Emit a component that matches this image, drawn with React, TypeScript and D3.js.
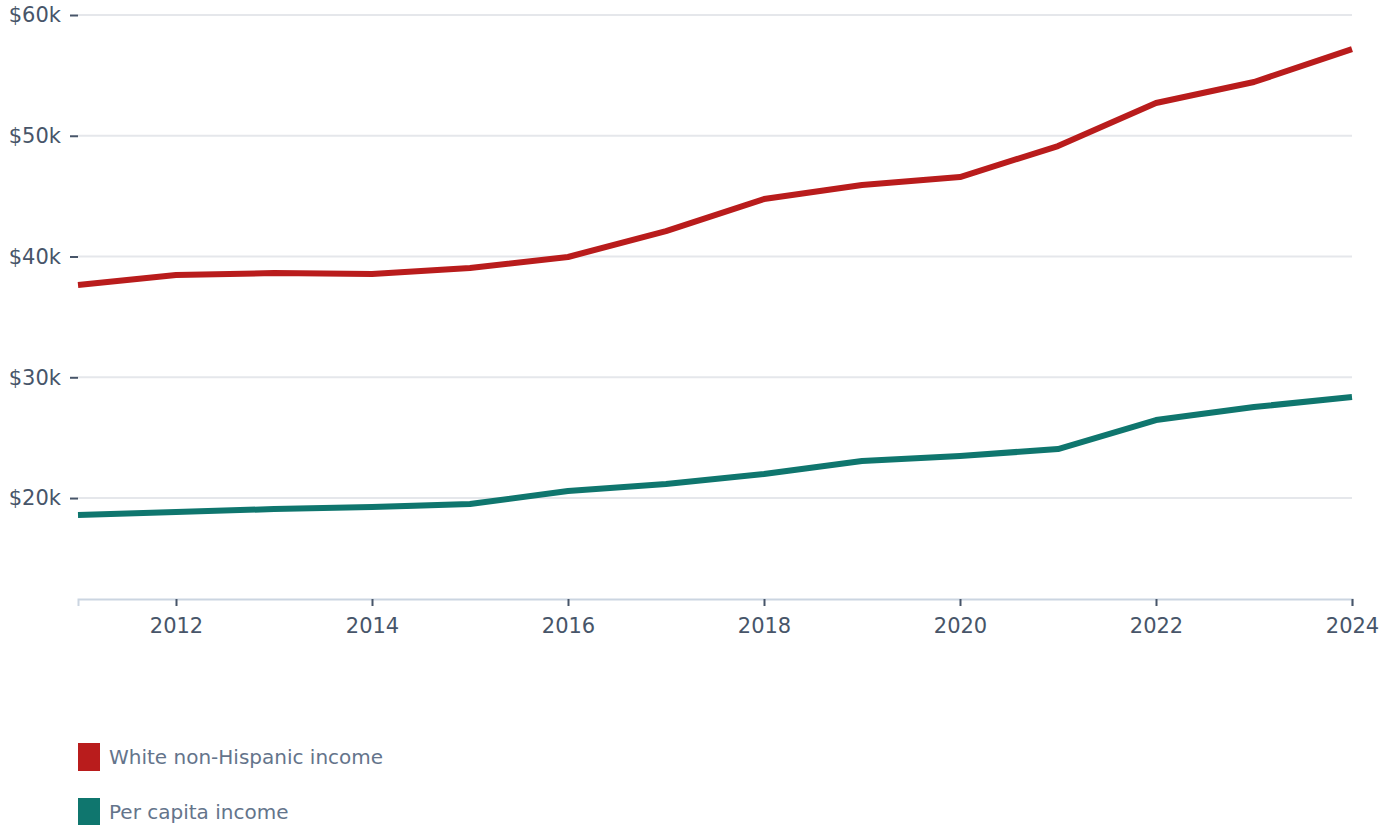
import React, { useEffect, useRef } from 'react';
import * as d3 from 'd3';

// --- Data ---
const years = [2011, 2012, 2013, 2014, 2015, 2016, 2017, 2018, 2019, 2020, 2021, 2022, 2023, 2024];
const whiteIncome = [37650, 38470, 38630, 38550, 39050, 39960, 42110, 44760, 45920, 46580, 49150, 52710, 54450, 57180];
const perCapitaIncome = [18590, 18840, 19090, 19250, 19500, 20580, 21160, 21990, 23060, 23480, 24060, 26460, 27540, 28360];
const yTicks = [20000, 30000, 40000, 50000, 60000];
const xTicks = [2012, 2014, 2016, 2018, 2020, 2022, 2024];
const seriesNames = ['White non-Hispanic income', 'Per capita income'];
const seriesColors = ['#B91C1C', '#0F766E'];

const W = 1392;
const H = 825;
const FONT = '"DejaVu Sans", sans-serif';

const App = () => {
  const ref = useRef<SVGSVGElement | null>(null);

  useEffect(() => {
    const svg = d3.select(ref.current);
    svg.selectAll('*').remove();

    const margin = { top: 15, right: 40, left: 78 };
    const plotBottom = 599;

    const x = d3.scaleLinear().domain([2011, 2024]).range([margin.left, W - margin.right]);
    const y = d3.scaleLinear().domain([11640, 60000]).range([plotBottom, margin.top]);

    // gridlines
    svg.append('g')
      .selectAll('line')
      .data(yTicks)
      .enter()
      .append('line')
      .attr('x1', margin.left)
      .attr('x2', W - margin.right)
      .attr('y1', d => y(d))
      .attr('y2', d => y(d))
      .attr('stroke', '#E5E7EB')
      .attr('stroke-width', 2);

    // y axis
    const yAxis = svg.append('g')
      .attr('transform', `translate(${margin.left},0)`)
      .call(d3.axisLeft(y).tickValues(yTicks).tickSize(8).tickPadding(9).tickFormat(d => `$${(+d) / 1000}k`));
    yAxis.select('.domain').remove();
    yAxis.selectAll('line').attr('stroke', '#475569').attr('stroke-width', 2);
    yAxis.selectAll('text').attr('fill', '#475569').style('font-family', FONT).style('font-size', '21px');

    // x axis
    const xAxis = svg.append('g')
      .attr('transform', `translate(0,${plotBottom})`)
      .call(d3.axisBottom(x).tickValues(xTicks).tickSize(7).tickPadding(12).tickFormat(d => String(d)));
    xAxis.select('.domain').attr('stroke', '#CBD5E1').attr('stroke-width', 2);
    xAxis.selectAll('line').attr('stroke', '#475569').attr('stroke-width', 2);
    xAxis.selectAll('text').attr('fill', '#475569').style('font-family', FONT).style('font-size', '21px');

    // lines
    const line = d3.line<number>()
      .x((d, i) => x(years[i]))
      .y(d => y(d));

    [whiteIncome, perCapitaIncome].forEach((values, i) => {
      svg.append('path')
        .datum(values)
        .attr('d', line)
        .attr('fill', 'none')
        .attr('stroke', seriesColors[i])
        .attr('stroke-width', 6)
        .attr('stroke-linejoin', 'round');
    });

    // legend
    const legend = svg.append('g')
      .selectAll('g')
      .data(seriesNames)
      .enter()
      .append('g')
      .attr('transform', (d, i) => `translate(78,${743 + i * 55})`);
    legend.append('rect')
      .attr('width', 22)
      .attr('height', 28)
      .attr('fill', (d, i) => seriesColors[i]);
    legend.append('text')
      .attr('x', 31)
      .attr('y', 14)
      .attr('dy', '0.35em')
      .attr('fill', '#64748B')
      .style('font-family', FONT)
      .style('font-size', '20px')
      .text(d => d);
  }, []);

  return (
    <div style={{ position: 'absolute', left: 0, top: 0, width: W, height: H, background: '#fff' }}>
      <svg ref={ref} width={W} height={H} />
    </div>
  );
};

export default App;
